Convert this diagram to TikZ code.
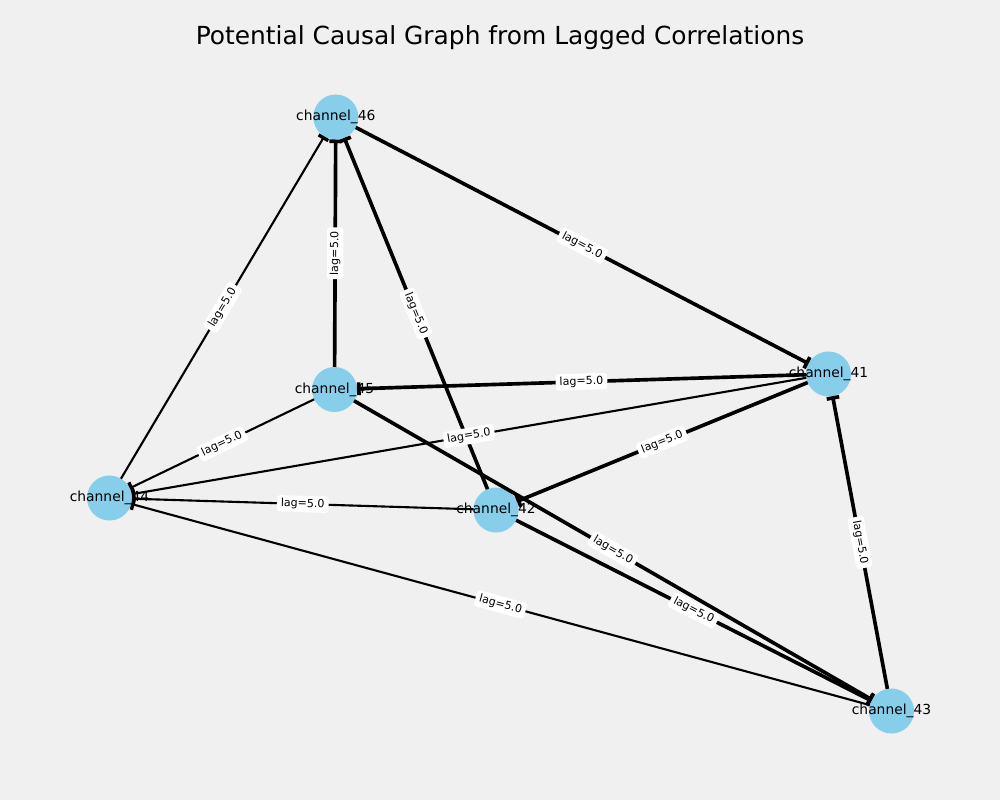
\documentclass[tikz,border=0pt]{standalone}
\usepackage{fontspec}
\setmainfont{DejaVu Sans}
\usetikzlibrary{arrows.meta}
\definecolor{bgc}{HTML}{F0F0F0}
\definecolor{skyblue}{HTML}{87CEEB}
\begin{document}
\begin{tikzpicture}[x=0.025cm,y=-0.025cm,
  vert/.style={circle,fill=skyblue,minimum size=1.125cm,inner sep=0pt,outer sep=0pt},
  vlab/.style={font=\fontsize{9.84pt}{11pt}\selectfont,inner sep=0pt},
  strong/.style={line width=2.6pt,-{Rectangle[length=2.6pt,width=9pt]}},
  weak/.style={line width=1.5pt,-{Rectangle[length=2.4pt,width=8pt]}},
  lag/.style={midway,sloped,fill=white,rounded corners=2pt,inner xsep=2.8pt,inner ysep=2pt,font=\fontsize{7.87pt}{9pt}\selectfont}
]
\fill[bgc] (0,0) rectangle (1000,800);
\useasboundingbox (0,0) rectangle (1000,800);
\node[font=\fontsize{17.7pt}{20pt}\selectfont] (title) at (500,38) {Potential Causal Graph from Lagged Correlations};

\node[vert] (n46) at (335.8,117) {};
\node[vert] (n41) at (828.5,374) {};
\node[vert] (n45) at (334.5,389.5) {};
\node[vert] (n44) at (109.5,498) {};
\node[vert] (n42) at (496,510) {};
\node[vert] (n43) at (891.5,711) {};

% edges
\draw[strong] (n46) -- (n41);
\draw[strong] (n45) -- (n46);
\draw[strong] (n42) -- (n46);
\draw[weak] (n44) -- (n46);
\draw[strong] (n41) -- (n45);
\draw[weak] (n41) -- (n44);
\draw[weak] (n45) -- (n44);
\draw[strong] (n41) -- (n42);
\draw[weak] (n42) -- (n44);
\draw[strong] (n45) -- (n43);
\draw[strong] (n42) -- (n43);
\draw[weak] (n43) -- (n44);
\draw[strong] (n43) -- (n41);

% edge labels
\path (n46) -- (n41) node[lag] (l1) {lag=5.0};
\path (n45) -- (n46) node[lag] (l2) {lag=5.0};
\path (n42) -- (n46) node[lag] (l3) {lag=5.0};
\path (n44) -- (n46) node[lag] (l4) {lag=5.0};
\path (n41) -- (n45) node[lag] (l5) {lag=5.0};
\path (n41) -- (n44) node[lag] (l6) {lag=5.0};
\path (n45) -- (n44) node[lag] (l7) {lag=5.0};
\path (n41) -- (n42) node[lag] (l8) {lag=5.0};
\path (n42) -- (n44) node[lag] (l9) {lag=5.0};
\path (n45) -- (n43) node[lag] (l10) {lag=5.0};
\path (n42) -- (n43) node[lag] (l11) {lag=5.0};
\path (n43) -- (n44) node[lag] (l12) {lag=5.0};
\path (n43) -- (n41) node[lag] (l13) {lag=5.0};

% node labels
\node[vlab] (t46) at (n46) {channel\_46};
\node[vlab] (t41) at (n41) {channel\_41};
\node[vlab] (t45) at (n45) {channel\_45};
\node[vlab] (t44) at (n44) {channel\_44};
\node[vlab] (t42) at (n42) {channel\_42};
\node[vlab] (t43) at (n43) {channel\_43};
\end{tikzpicture}
\end{document}
